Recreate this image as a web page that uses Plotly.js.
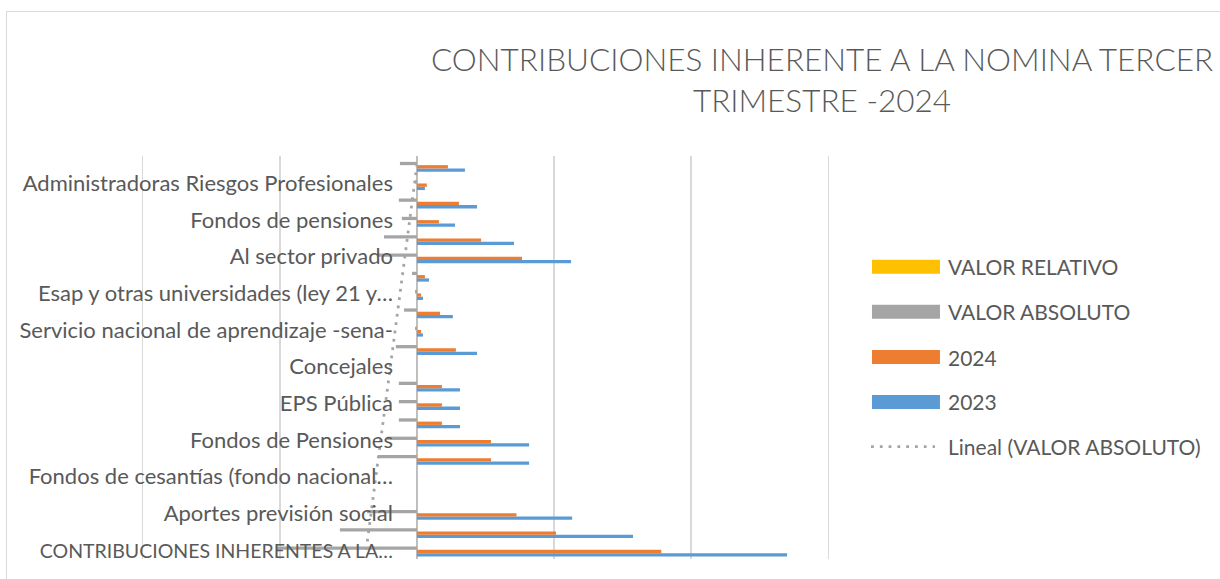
<!DOCTYPE html>
<html>
<head>
<meta charset="utf-8">
<script src="https://cdn.plot.ly/plotly-3.0.1.min.js"></script>
<style>
  html, body { margin: 0; padding: 0; background: #ffffff; }
  #frame { position: absolute; left: 6px; top: 11px; width: 1400px; height: 800px; border: 1px solid #d9d9d9; }
  #chart { position: absolute; left: 0; top: 0; width: 1220px; height: 579px; }
</style>
</head>
<body>
<div id="frame"></div>
<div id="chart"></div>
<script>
// ---- data (bottom category first, as in the chart) ----
const categories = [
  "CONTRIBUCIONES INHERENTES A LA NOMINA",
  "Al sector público",
  "Aportes previsión social",
  "Cesantías",
  "Fondos de cesantías (fondo nacional del ahorro)",
  "Pensiones",
  "Fondos de Pensiones",
  "Salud",
  "EPS Pública",
  "Riesgos laborales",
  "Concejales",
  "Aportes parafiscales",
  "Servicio nacional de aprendizaje -sena-",
  "Instituto colombiano de bienestar familiar -icbf-",
  "Esap y otras universidades (ley 21 y ley 1697)",
  "Escuelas industriales e institutos técnicos",
  "Al sector privado",
  "Aportes previsión social sector privado",
  "Fondos de pensiones",
  "Empresas promotoras de salud",
  "Administradoras Riesgos Profesionales",
  "Cajas de compensación familiar"
];

// labels that the axis actually shows (every other category)
const shownCategories = [
  "CONTRIBUCIONES INHERENTES A LA NOMINA",
  "Aportes previsión social",
  "Fondos de cesantías (fondo nacional del ahorro)",
  "Fondos de Pensiones",
  "EPS Pública",
  "Concejales",
  "Servicio nacional de aprendizaje -sena-",
  "Esap y otras universidades (ley 21 y ley 1697)",
  "Al sector privado",
  "Fondos de pensiones",
  "Administradoras Riesgos Profesionales"
];
const shownLabels = [
  "CONTRIBUCIONES INHERENTES A LA…",
  "Aportes previsión social",
  "Fondos de cesantías (fondo nacional…",
  "Fondos de Pensiones",
  "EPS Pública",
  "Concejales",
  "Servicio nacional de aprendizaje -sena-",
  "Esap y otras universidades (ley 21 y…",
  "Al sector privado",
  "Fondos de pensiones",
  "Administradoras Riesgos Profesionales"
];

const values2023 = [1350, 788, 566, 0, 0, 409, 409, 157, 157, 157, 0, 219, 22, 131, 22, 44, 562, 354, 139, 219, 29, 175];
const values2024 = [891, 507, 363, 0, 0, 270, 270, 91, 91, 91, 0, 142, 15, 84, 15, 29, 383, 234, 80, 153, 36, 113];
const valorAbsoluto = [-511, -281, -182, 0, 0, -142, -109, -66, -66, -66, 0, -77, -7, -47, -7, -18, -146, -120, -55, -66, -7, -62];
const valorRelativo = [-0.38, -0.36, -0.32, 0, 0, -0.35, -0.27, -0.42, -0.42, -0.42, 0, -0.35, -0.32, -0.36, -0.32, -0.41, -0.26, -0.34, -0.40, -0.30, -0.24, -0.35];

const legendNames = ["VALOR RELATIVO", "VALOR ABSOLUTO", "2024", "2023", "Lineal (VALOR ABSOLUTO)"];
const titleText = "CONTRIBUCIONES INHERENTE A LA NOMINA TERCER<br>TRIMESTRE -2024";

// ---- styles ----
const C_BLUE = "#5b9bd5", C_ORANGE = "#ed7d31", C_GRAY = "#a5a5a5", C_YELLOW = "#ffc000";
const TXT = "#595959";
const FONT = "Lato, 'Open Sans', sans-serif";

// all-caps labels are set a little smaller so their width matches the narrower original face
const tickText = shownLabels.map((s) => (s === s.toUpperCase() ? "<span style='font-size:19.5px'>" + s + "</span>" : s));

// least-squares linear trendline of VALOR ABSOLUTO over category index (Excel "Lineal")
const n = valorAbsoluto.length;
const idx = valorAbsoluto.map((_, i) => i);
const mx = idx.reduce((a, b) => a + b, 0) / n;
const my = valorAbsoluto.reduce((a, b) => a + b, 0) / n;
let sxy = 0, sxx = 0;
idx.forEach((i) => { sxy += (i - mx) * (valorAbsoluto[i] - my); sxx += (i - mx) * (i - mx); });
const slope = sxy / sxx;
const trend = idx.map((i) => my + slope * (i - mx));

const traces = [
  { type: "bar", orientation: "h", name: legendNames[3], y: categories, x: values2023, marker: { color: C_BLUE }, showlegend: false },
  { type: "bar", orientation: "h", name: legendNames[2], y: categories, x: values2024, marker: { color: C_ORANGE }, showlegend: false },
  { type: "bar", orientation: "h", name: legendNames[1], y: categories, x: valorAbsoluto, marker: { color: C_GRAY }, showlegend: false },
  { type: "bar", orientation: "h", name: legendNames[0], y: categories, x: valorRelativo, marker: { color: C_YELLOW }, showlegend: false },
  { type: "scatter", mode: "lines", name: legendNames[4], y: [categories[0], categories[n - 1]], x: [trend[0], trend[n - 1]],
    line: { color: C_GRAY, width: 2.8, dash: "2.8px,5.6px" }, showlegend: false, hoverinfo: "skip" }
];

// ---- custom legend (wide swatches as in the original) ----
const legRows = [0.7253, 0.6134, 0.5012, 0.3896, 0.2787];
const legColors = [C_YELLOW, C_GRAY, C_ORANGE, C_BLUE];
const shapes = [];
const annotations = [];
for (let k = 0; k < 4; k++) {
  shapes.push({ type: "rect", xref: "paper", yref: "paper", x0: 1.0593, x1: 1.1577,
    y0: legRows[k] - 0.0174, y1: legRows[k] + 0.0174, fillcolor: legColors[k], line: { width: 0 } });
}
shapes.push({ type: "line", xref: "paper", yref: "paper", x0: 1.0579, x1: 1.1505, y0: legRows[4], y1: legRows[4],
  line: { color: C_GRAY, width: 2.8, dash: "2.8px,6px" } });
for (let k = 0; k < 5; k++) {
  annotations.push({ xref: "paper", yref: "paper", x: 1.1664, y: legRows[k], xanchor: "left", yanchor: "middle",
    text: legendNames[k], showarrow: false, font: { family: FONT, size: 21, color: TXT } });
}

const layout = {
  width: 1220, height: 579,
  margin: { l: 140, r: 389, t: 156, b: 20, pad: 0, autoexpand: false },
  paper_bgcolor: "rgba(0,0,0,0)", plot_bgcolor: "rgba(0,0,0,0)",
  barmode: "group", bargap: 0.28, bargroupgap: 0,
  showlegend: false,
  title: { text: titleText, xref: "paper", x: 0.987, xanchor: "center", yref: "container", y: 0.877, yanchor: "middle",
    font: { family: FONT, size: 31.5, color: TXT, weight: 300 } },
  xaxis: { range: [-1010, 1510], autorange: false, dtick: 500, tick0: 0, showticklabels: false, ticks: "",
    showgrid: true, gridcolor: "#d9d9d9", gridwidth: 1.5,
    zeroline: true, zerolinecolor: "#bfbfbf", zerolinewidth: 2, showline: false, fixedrange: true },
  yaxis: { type: "category", categoryorder: "array", categoryarray: categories,
    range: [-0.5, 21.5], autorange: false,
    anchor: "free", position: 1010 / 2520, tickmode: "array", tickvals: shownCategories, ticktext: tickText,
    ticks: "", ticklabelstandoff: 24, showgrid: false, zeroline: false, showline: false,
    tickfont: { family: FONT, size: 22, color: TXT }, fixedrange: true, automargin: false },
  shapes: shapes,
  annotations: annotations,
  font: { family: FONT, color: TXT }
};

Plotly.newPlot("chart", traces, layout, { displayModeBar: false, staticPlot: true });
</script>
</body>
</html>
